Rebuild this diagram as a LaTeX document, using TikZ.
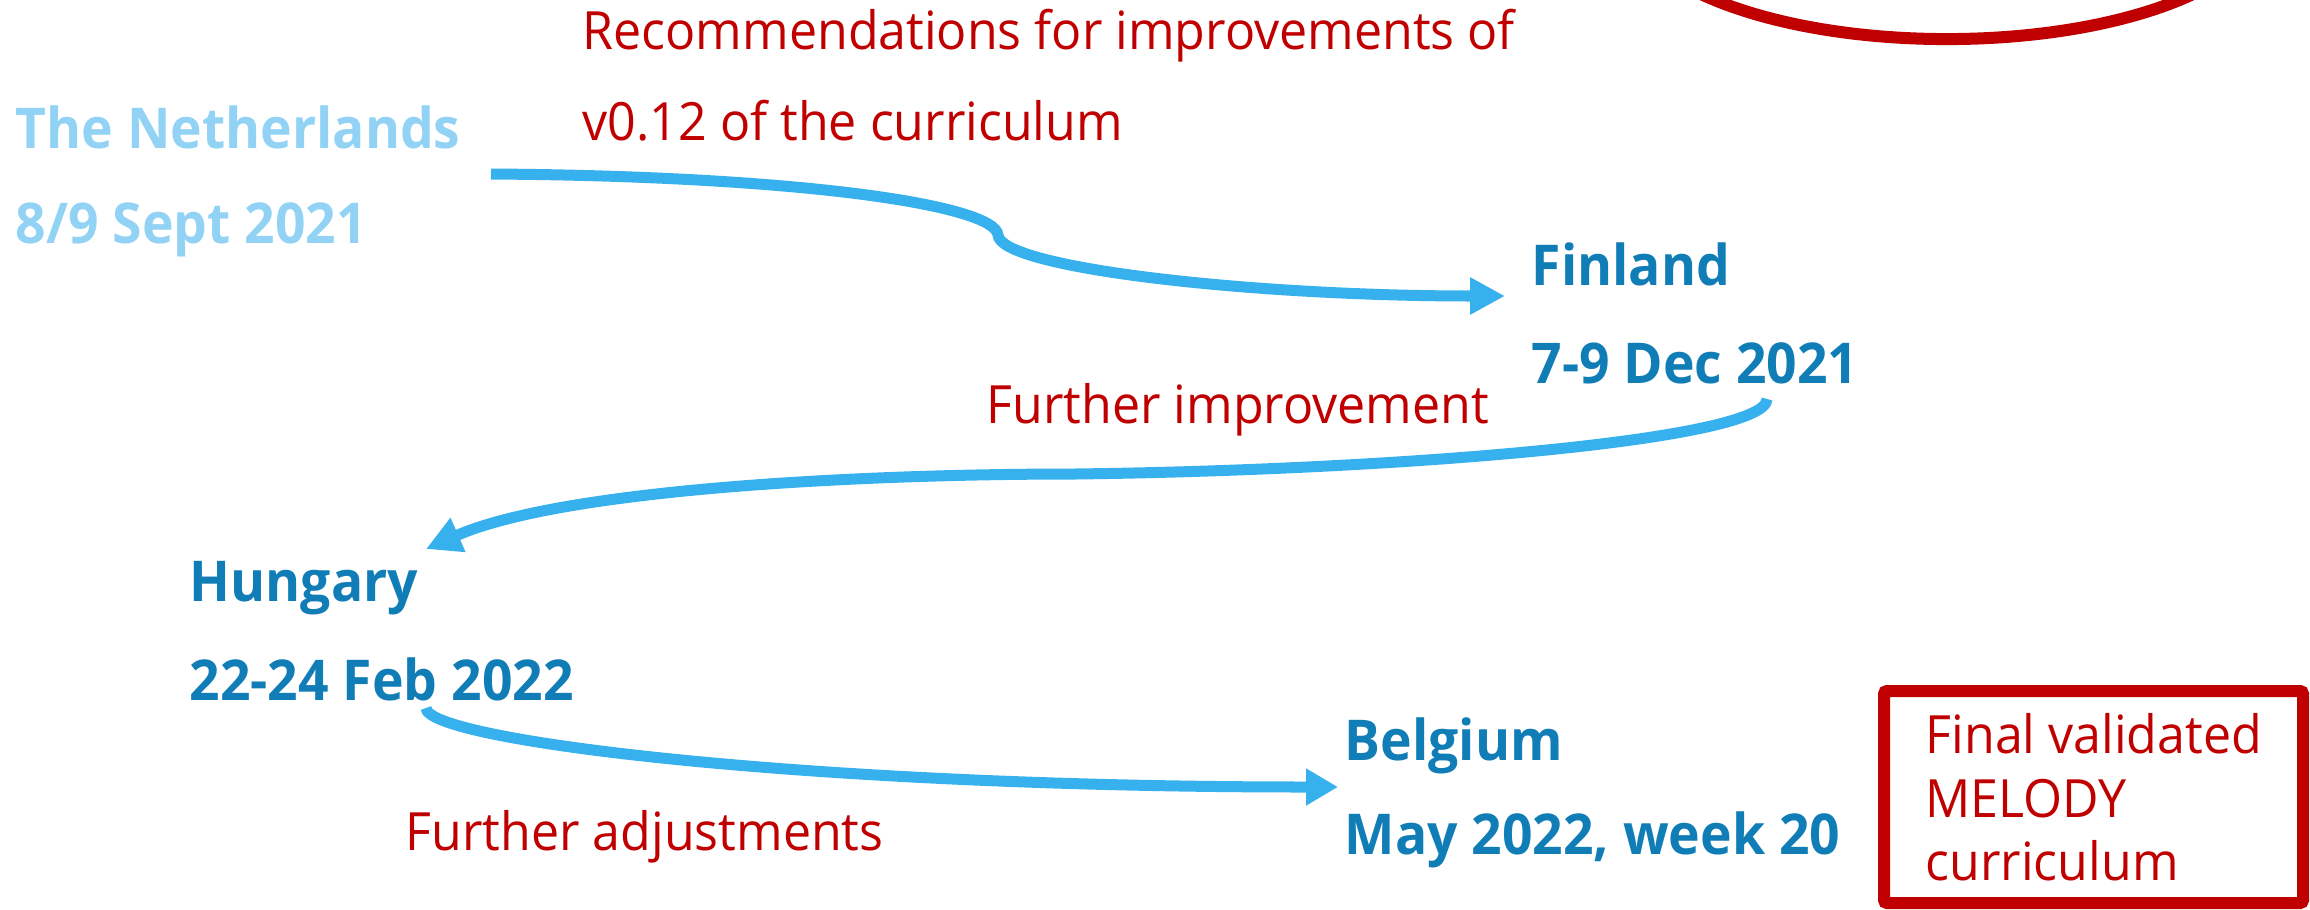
\documentclass[tikz,border=0pt]{standalone}
\usepackage{fontspec}
\setmainfont{Open Sans}[FakeStretch=0.95]
\usetikzlibrary{arrows.meta}
\definecolor{arrowblue}{RGB}{54,177,237}
\definecolor{lblblue}{RGB}{17,125,182}
\definecolor{paleblue}{RGB}{146,211,245}
\definecolor{darkred}{RGB}{192,0,0}
\tikzset{
  bluelbl/.style={anchor=base west, inner sep=0pt, text=lblblue, font=\fontsize{16}{19}\selectfont\bfseries},
  palelbl/.style={bluelbl, text=paleblue},
  redlbl/.style={anchor=base west, inner sep=0pt, text=darkred, font=\fontsize{15}{18}\selectfont},
  flow/.style={draw=arrowblue, line width=0.11cm, -{Triangle[length=0.35cm, width=0.35cm]}},
  redline/.style={draw=darkred, line width=0.12cm}
}
\begin{document}
\begin{tikzpicture}[x=0.01cm, y=-0.01cm]
\useasboundingbox (0,0) rectangle (2310,909);
% ellipse (top right, cut by the edge)
\begin{scope}
  \clip (0,0) rectangle (2310,909);
  \draw[redline] (1947,-86) ellipse [x radius=3.2cm, y radius=1.25cm];
\end{scope}
% texts
\node[redlbl] (recA) at (582,49) {Recommendations for improvements of};
\node[redlbl] (recB) at (582,140) {v0.12 of the curriculum};
\node[palelbl] (nlA) at (15,148) {The Netherlands};
\node[palelbl] (nlB) at (15,243) {8/9 Sept 2021};
\node[bluelbl] (fiA) at (1531,285) {Finland};
\node[bluelbl] (fiB) at (1531,383) {7-9 Dec 2021};
\node[redlbl] (impr) at (986,423) {Further improvement};
\node[bluelbl] (huA) at (189,601) {Hungary};
\node[bluelbl] (huB) at (189,700) {22-24 Feb 2022};
\node[bluelbl] (beA) at (1344,760) {Belgium};
\node[bluelbl] (beB) at (1344,854) {May 2022, week 20};
\node[redlbl] (adj) at (405,850) {Further adjustments};
% final box
\draw[redline, rounded corners=0.03cm] (1884,691) rectangle (2303,903);
\node[redlbl] (finA) at (1925,753) {Final validated};
\node[redlbl] (finB) at (1925,817) {MELODY};
\node[redlbl] (finC) at (1925,880) {curriculum};
% connector end points
\coordinate (s1) at (491,174);
\coordinate (k1) at (998,235);
\coordinate (t1) at (1505,296);
\coordinate (s2) at (1767,399);
\coordinate (m2) at (1075,474);
\coordinate (t2) at (426,549);
\coordinate (s3) at (426,708);
\coordinate (t3) at (1338,787);
% arrows
\draw[flow] (s1) .. controls (800,176) and (995,205) .. (k1)
               .. controls (1000,268) and (1250,296) .. (t1);
\draw[flow] (s2) .. controls (1767,440) and (1400,470) .. (m2)
               .. controls (850,474) and (560,490) .. (t2);
\draw[flow, -{Triangle[length=0.32cm, width=0.35cm]}] (s3) .. controls (426,740) and (800,787) .. (t3);
\end{tikzpicture}
\end{document}
